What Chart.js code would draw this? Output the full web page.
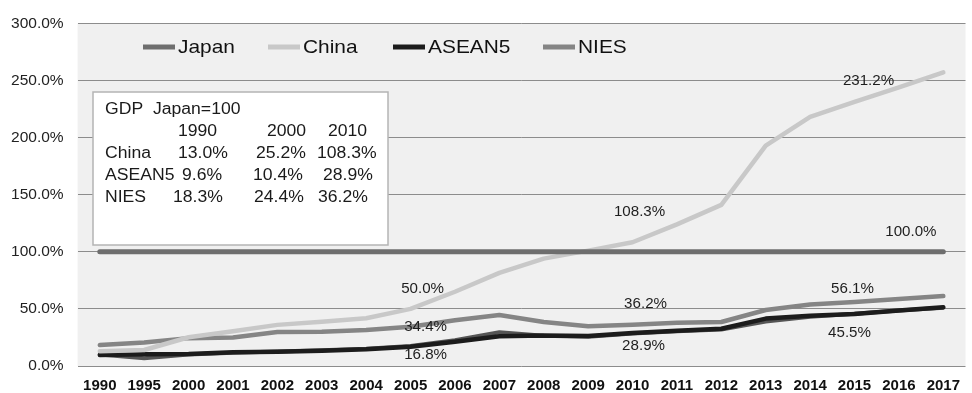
<!DOCTYPE html>
<html>
<head>
<meta charset="utf-8">
<script src="https://cdn.jsdelivr.net/npm/chart.js@4/dist/chart.umd.min.js"></script>
<style>
  html, body { margin: 0; padding: 0; background: #ffffff; overflow: hidden; }
  #wrap { width: 972px; height: 393px; }
</style>
</head>
<body>
<div id="wrap"><canvas id="c" width="972" height="393"></canvas></div>
<script>
// Years on the horizontal axis
const years = ['1990','1995','2000','2001','2002','2003','2004','2005','2006','2007',
               '2008','2009','2010','2011','2012','2013','2014','2015','2016','2017'];

// GDP relative to Japan (Japan = 100), percent
const japan  = [100,100,100,100,100,100,100,100,100,100,100,100,100,100,100,100,100,100,100,100];
const china  = [13.0,14.0,25.2,30.5,36.0,38.8,41.8,50.0,65.0,81.5,94.0,101.0,108.3,124.0,141.0,193.0,218.0,231.2,244.0,257.0];
const asean5 = [9.6,10.3,10.4,12.0,12.5,13.4,14.6,16.8,21.3,26.0,26.8,26.2,28.9,30.9,32.6,41.5,44.0,45.5,48.5,51.5];
const nies   = [18.3,20.6,24.4,25.0,29.8,30.0,31.5,34.4,40.0,44.6,38.5,34.8,36.2,37.8,38.5,49.0,53.8,56.1,58.6,61.2];
const other  = [10.0,6.8,10.0,11.5,12.8,13.8,15.0,17.5,22.5,29.5,26.5,25.5,28.5,30.5,32.0,39.0,43.0,45.8,48.5,51.0];

// Y axis ticks
const yTicks = [0, 50, 100, 150, 200, 250, 300];

// Summary table in the inset box
const tableTitle = 'GDP  Japan=100';
const tableYears = ['1990', '2000', '2010'];
const tableRegions = ['China', 'ASEAN5', 'NIES'];
const tableChina  = [13.0, 25.2, 108.3];
const tableAsean5 = [9.6, 10.4, 28.9];
const tableNies   = [18.3, 24.4, 36.2];

// Point annotations: [series, year]
const annotated = [
  ['China', '2005'], ['NIES', '2005'], ['ASEAN5', '2005'],
  ['China', '2010'], ['NIES', '2010'], ['ASEAN5', '2010'],
  ['China', '2015'], ['NIES', '2015'], ['ASEAN5', '2015'],
  ['Japan', '2016']
];

const legendNames = ['Japan', 'China', 'ASEAN5', 'NIES'];

// label nudges (px) for the annotations above, same order
const annotOffsets = [
  [12, -20], [15, 0], [15, 8],
  [7, -30], [13, -21], [11, 13],
  [14, -21], [-2, -13], [-5, 19],
  [12, -20]
];

const FONT = '"Liberation Sans", Arial, sans-serif';

function wideText(ctx, text, x, y, align, sx) {
  ctx.save();
  ctx.translate(x, y);
  ctx.scale(sx, 1);
  ctx.textAlign = align;
  ctx.fillText(text, 0, 0);
  ctx.restore();
}

const fmt = v => v.toFixed(1) + '%';

const decor = {
  id: 'decor',
  beforeDraw(chart) {
    const { ctx, chartArea: a } = chart;
    ctx.save();
    ctx.fillStyle = '#ffffff';
    ctx.fillRect(0, 0, chart.width, chart.height);
    ctx.fillStyle = '#f0f0f0';
    ctx.fillRect(a.left, a.top, a.right - a.left, a.bottom - a.top);
    ctx.restore();
  },
  beforeDatasetsDraw(chart) {
    const { ctx } = chart;
    ctx.save();
    // inset table
    ctx.fillStyle = '#ffffff';
    ctx.fillRect(93, 92, 295, 153);
    ctx.strokeStyle = '#b4b4b4';
    ctx.lineWidth = 1.5;
    ctx.strokeRect(93, 92, 295, 153);

    ctx.fillStyle = '#1a1a1a';
    ctx.font = '16px ' + FONT;
    ctx.textBaseline = 'middle';
    const sx = 1.1;
    wideText(ctx, tableTitle, 105, 110, 'left', sx);
    const yearX = [178, 267, 328];
    tableYears.forEach((t, i) => wideText(ctx, t, yearX[i], 132, 'left', sx));
    const rows = [tableChina, tableAsean5, tableNies];
    const rowY = [154, 176, 198];
    const cellX = [[178, 256, 317], [182, 253, 323], [173, 254, 318]];
    rows.forEach((vals, r) => {
      wideText(ctx, tableRegions[r], 105, rowY[r], 'left', sx);
      vals.forEach((v, c) => wideText(ctx, fmt(v), cellX[r][c], rowY[r], 'left', sx));
    });

    // legend
    const starts = [143, 268, 393, 543];
    ctx.font = '19px ' + FONT;
    legendNames.forEach((name, i) => {
      const ds = chart.data.datasets.find(d => d.label === name);
      const x0 = starts[i];
      const ly = 47;
      ctx.strokeStyle = ds.borderColor;
      ctx.lineWidth = 5;
      ctx.lineCap = 'butt';
      ctx.beginPath();
      ctx.moveTo(x0, ly);
      ctx.lineTo(x0 + 32, ly);
      ctx.stroke();
      ctx.fillStyle = '#111111';
      wideText(ctx, name, x0 + 35, ly + 1, 'left', 1.1);
    });
    ctx.restore();
  },
  afterDatasetsDraw(chart) {
    const { ctx } = chart;
    ctx.save();
    ctx.font = '14px ' + FONT;
    ctx.fillStyle = '#1e1e1e';
    ctx.textBaseline = 'middle';
    annotated.forEach(([name, yr], k) => {
      const di = chart.data.datasets.findIndex(d => d.label === name);
      const idx = years.indexOf(yr);
      const pt = chart.getDatasetMeta(di).data[idx];
      const v = chart.data.datasets[di].data[idx];
      const [dx, dy] = annotOffsets[k];
      wideText(ctx, fmt(v), pt.x + dx, pt.y + dy, 'center', 1.08);
    });
    ctx.restore();
  }
};

const lineStyle = (label, data, color, width) => ({
  label, data,
  borderColor: color,
  backgroundColor: color,
  borderWidth: width,
  pointRadius: 0,
  pointHoverRadius: 0,
  tension: 0,
  fill: false,
  borderCapStyle: 'round',
  borderJoinStyle: 'round'
});

new Chart(document.getElementById('c'), {
  type: 'line',
  data: {
    labels: years,
    datasets: [
      lineStyle('Japan', japan, '#6e6e6e', 5),
      lineStyle('China', china, '#c8c8c8', 4.5),
      lineStyle('ASEAN5', asean5, '#1c1c1c', 4.5),
      lineStyle('NIES', nies, '#858585', 4.5),
      lineStyle('Other', other, '#555555', 4)
    ]
  },
  options: {
    responsive: false,
    animation: false,
    devicePixelRatio: 1,
    layout: { autoPadding: false, padding: { top: 23, left: 11, right: 0, bottom: 0 } },
    plugins: {
      legend: { display: false },
      tooltip: { enabled: false }
    },
    scales: {
      x: {
        offset: true,
        grid: { display: false, drawTicks: false, tickLength: 0 },
        border: { display: false },
        afterFit(scale) { scale.height = 27; },
        ticks: {
          autoSkip: false,
          maxRotation: 0,
          minRotation: 0,
          padding: 12,
          color: '#111111',
          font: { family: FONT, size: 15, weight: 'bold', lineHeight: 1.0 }
        }
      },
      y: {
        min: yTicks[0],
        max: yTicks[yTicks.length - 1],
        afterBuildTicks(scale) { scale.ticks = yTicks.map(v => ({ value: v })); },
        afterFit(scale) { scale.width = 66.6; },
        grid: { color: '#8c8c8c', lineWidth: 1, drawTicks: false, tickLength: 0 },
        border: { display: false },
        ticks: {
          padding: 14,
          color: '#222222',
          font: { family: FONT, size: 15.5 },
          callback: v => Number(v).toFixed(1) + '%'
        }
      }
    }
  },
  plugins: [decor]
});
</script>
</body>
</html>
